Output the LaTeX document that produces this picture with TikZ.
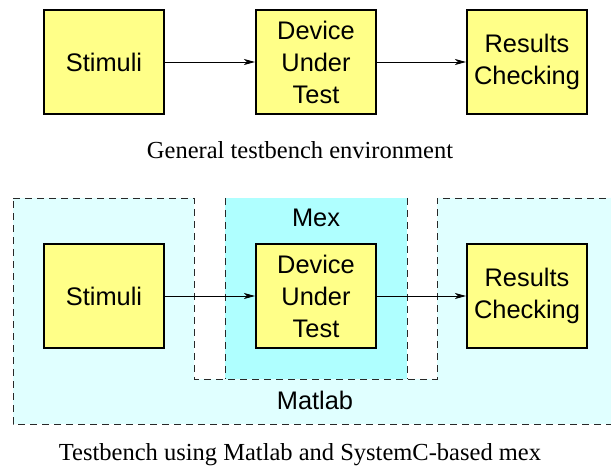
\documentclass[tikz,border=0pt]{standalone}
\usepackage{fontspec}
\setmainfont{Liberation Serif}
\setsansfont{Liberation Sans}
\usetikzlibrary{arrows.meta}
\definecolor{boxyellow}{RGB}{255,255,136}
\definecolor{matlabcyan}{RGB}{224,255,255}
\definecolor{mexcyan}{RGB}{175,255,255}
\definecolor{dashgray}{RGB}{40,40,40}
\begin{document}
\begin{tikzpicture}[x=1pt,y=-1pt,
  blockbox/.style={draw=black, line width=2pt, fill=boxyellow, minimum width=120pt, minimum height=104pt, inner sep=0pt, align=center, font=\sffamily\fontsize{25.4}{32}\selectfont},
  flow/.style={-{Stealth[length=11pt,width=6pt,inset=3pt]}, line width=0.8pt},
  region/.style={dash pattern=on 7pt off 5pt, line width=0.9pt, draw=dashgray},
  lbl/.style={font=\sffamily\fontsize{25.4}{32}\selectfont, inner sep=0pt},
  caption/.style={font=\rmfamily\fontsize{24.5}{30}\selectfont, inner sep=0pt}]
\useasboundingbox (0,0) rectangle (611,470);
\clip (0,0) rectangle (611,470);
% top row
\node[blockbox] (s1) at (104,62) {Stimuli};
\node[blockbox] (d1) at (316,62) {Device\\Under\\Test};
\node[blockbox] (r1) at (527,62) {Results\\Checking};
\draw[flow] (s1) -- (d1);
\draw[flow] (d1) -- (r1);
\node[caption] (c1) at (300,150) {General testbench environment};
% bottom regions
\fill[matlabcyan] (13,198) -- (194,198) -- (194,379) -- (437,379) -- (437,198) -- (625,198) -- (625,424) -- (13,424) -- cycle;
\draw[region] (13,198) -- (194,198) -- (194,379) -- (437,379) -- (437,198) -- (625,198) -- (625,424) -- (13,424) -- cycle;
\fill[mexcyan] (225,198) rectangle (407,379);
\draw[region] (225,198) -- (225,379);
\draw[region] (407,198) -- (407,379);
\node[lbl] (mex) at (316,218) {Mex};
\node[lbl] (matlab) at (315,400) {Matlab};
% bottom row
\node[blockbox] (s2) at (104,296) {Stimuli};
\node[blockbox] (d2) at (316,296) {Device\\Under\\Test};
\node[blockbox] (r2) at (527,296) {Results\\Checking};
\draw[flow] (s2) -- (d2);
\draw[flow] (d2) -- (r2);
\node[caption] (c2) at (300,455) {Testbench using Matlab and SystemC-based mex};
\end{tikzpicture}
\end{document}
